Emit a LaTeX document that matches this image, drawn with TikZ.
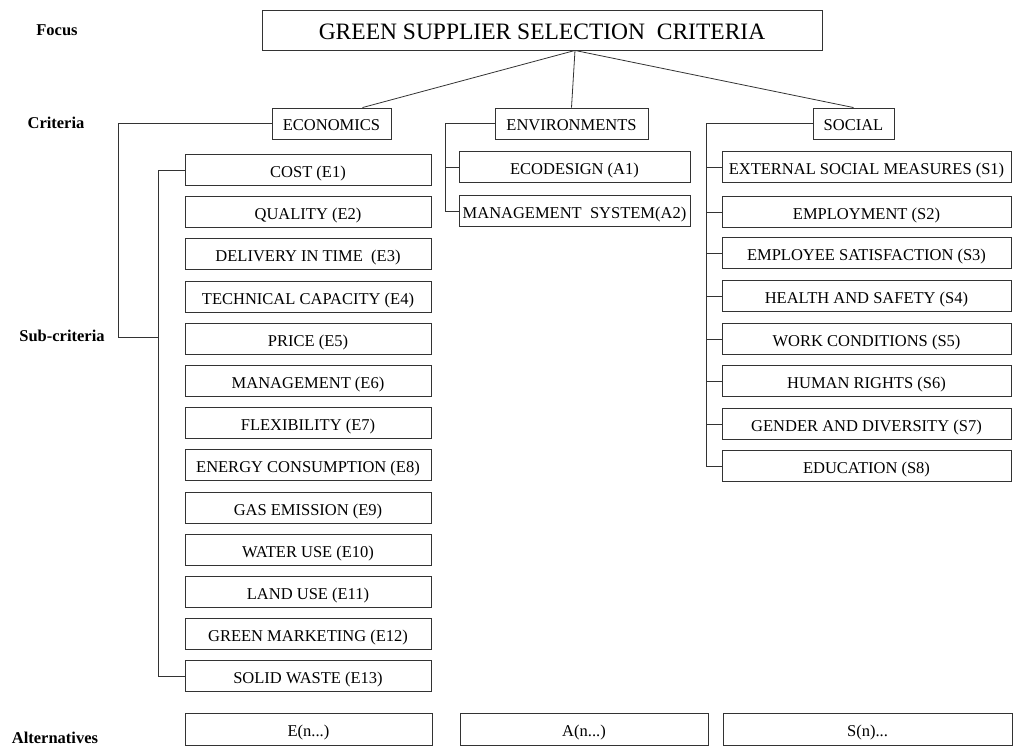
\documentclass[tikz,border=0pt]{standalone}
\usepackage{fontspec}
\setmainfont{Liberation Serif}
\begin{document}
\begin{tikzpicture}[x=1pt,y=-1pt]
		\tikzset{box/.style = {draw=black!80, line width=0.9pt, inner sep=0pt, minimum height=31pt, text height=16pt, text depth=2pt, font=\fontsize{16.5}{18}\selectfont}}
		\tikzset{ebox/.style = {box, minimum width=246pt}}
		\tikzset{abox/.style = {box, minimum width=231pt}}
		\tikzset{sbox/.style = {box, minimum width=289pt}}
		\tikzset{level/.style = {font=\fontsize{16.5}{18}\selectfont\bfseries}}
		\tikzset{link/.style = {draw=black!80, line width=0.8pt}}

		\useasboundingbox (0,0) rectangle (1013,750);

		\node[level] (lfocus) at (57,30) {Focus};
		\node[level] (lcrit) at (56,123) {Criteria};
		\node[level] (lsub) at (62,336) {Sub-criteria};
		\node[level] (lalt) at (55,738) {Alternatives};

		\node[box, minimum width=560pt, minimum height=40pt, text height=21pt, text depth=2.5pt, font=\fontsize{23.5}{26}\selectfont] (goal) at (542,30) {GREEN SUPPLIER SELECTION \ CRITERIA};

		\node[box, minimum width=119pt] (eco) at (331.5,123.5) {ECONOMICS};
		\node[box, minimum width=153pt] (env) at (571.5,123.5) {ENVIRONMENTS};
		\node[box, minimum width=81pt] (soc) at (853.5,123.5) {SOCIAL};

		\node[ebox] (e1) at (308,170) {COST (E1)};
		\node[ebox] (e2) at (308,212) {QUALITY (E2)};
		\node[ebox] (e3) at (308,254) {DELIVERY IN TIME \ (E3)};
		\node[ebox] (e4) at (308,297) {TECHNICAL CAPACITY (E4)};
		\node[ebox] (e5) at (308,339) {PRICE (E5)};
		\node[ebox] (e6) at (308,381) {MANAGEMENT (E6)};
		\node[ebox] (e7) at (308,423) {FLEXIBILITY (E7)};
		\node[ebox] (e8) at (308,465) {ENERGY CONSUMPTION (E8)};
		\node[ebox] (e9) at (308,508) {GAS EMISSION (E9)};
		\node[ebox] (e10) at (308,550) {WATER USE (E10)};
		\node[ebox] (e11) at (308,592) {LAND USE (E11)};
		\node[ebox] (e12) at (308,634) {GREEN MARKETING (E12)};
		\node[ebox] (e13) at (308,676) {SOLID WASTE (E13)};

		\node[abox] (a1) at (574.5,167) {ECODESIGN (A1)};
		\node[abox] (a2) at (574.5,211) {MANAGEMENT \ SYSTEM(A2)};

		\node[sbox] (s1) at (866.5,167) {EXTERNAL SOCIAL MEASURES (S1)};
		\node[sbox] (s2) at (866.5,212) {EMPLOYMENT (S2)};
		\node[sbox] (s3) at (866.5,253) {EMPLOYEE SATISFACTION (S3)};
		\node[sbox] (s4) at (866.5,296) {HEALTH AND SAFETY (S4)};
		\node[sbox] (s5) at (866.5,339) {WORK CONDITIONS (S5)};
		\node[sbox] (s6) at (866.5,381) {HUMAN RIGHTS (S6)};
		\node[sbox] (s7) at (866.5,424) {GENDER AND DIVERSITY (S7)};
		\node[sbox] (s8) at (866.5,466) {EDUCATION (S8)};

		\node[box, minimum width=247pt, minimum height=32pt] (alte) at (308.5,729) {E(n...)};
		\node[box, minimum width=248pt, minimum height=32pt] (alta) at (584,729) {A(n...)};
		\node[box, minimum width=289pt, minimum height=32pt] (alts) at (867.5,729) {S(n)...};

		% focus to criteria
		\draw[link] ([xshift=33pt]goal.south) -- ([xshift=31pt]eco.north);
		\draw[link] ([xshift=33pt]goal.south) -- (env.north);
		\draw[link] ([xshift=33pt]goal.south) -- (soc.north);

		% criteria to sub-criteria
		\coordinate (ebus) at (158,337);
		\draw[link] (eco.west) -- ++(-153,0) |- (ebus);
		\draw[link] (e1.west) -- (e1.west -| ebus) -- (e13.west -| ebus) -- (e13.west);

		\draw[link] (env.west) -- ++(-49,0) |- (a2.west);
		\draw[link] (a1.west) -- ++(-13,0);

		\draw[link] (soc.west) -- ++(-106,0) |- (s8.west);
		\foreach \i in {1,...,7} \draw[link] (s\i.west) -- ++(-15,0);

	\end{tikzpicture}
\end{document}
